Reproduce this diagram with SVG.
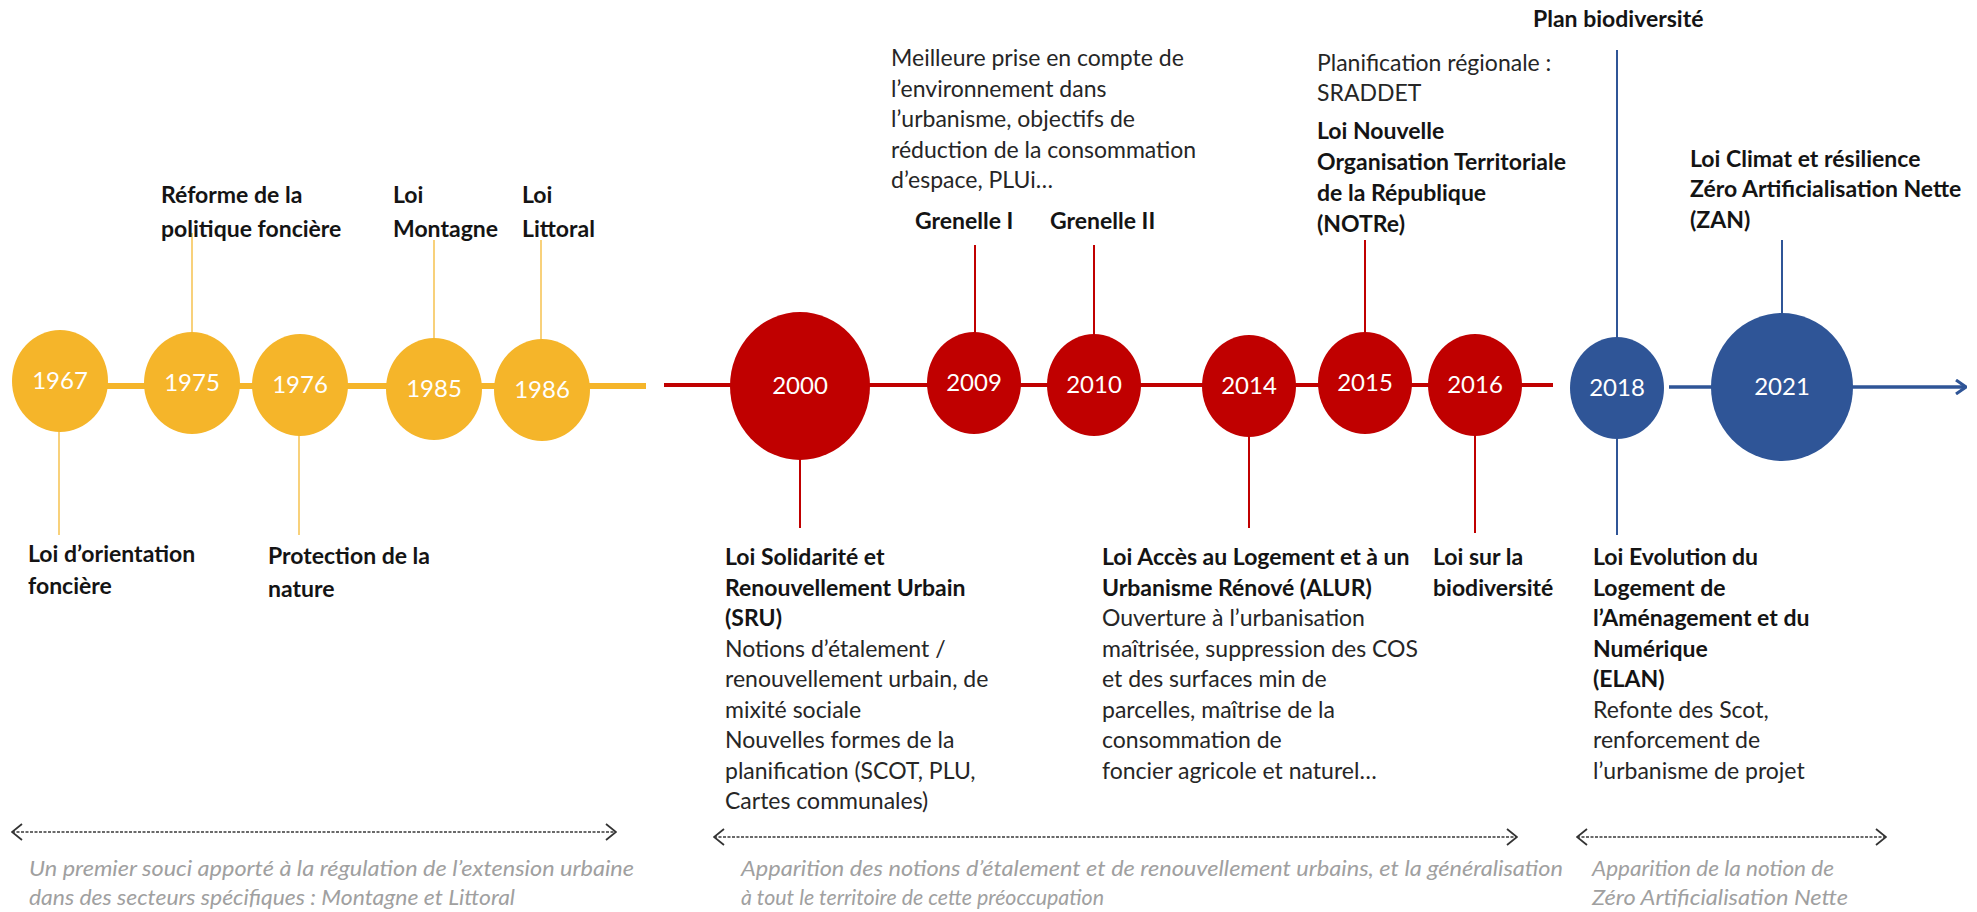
<svg xmlns="http://www.w3.org/2000/svg" width="1977" height="912" viewBox="0 0 1977 912">
<defs>
<style>
.t{font-family:Lato,"Liberation Sans",sans-serif;font-size:23px;fill:#141414}
.b{font-weight:bold}
.r{fill:#262626}
.yr{font-family:Lato,"Liberation Sans",sans-serif;font-size:24px;text-anchor:middle;fill:#ffffff}
.g{font-family:Lato,"Liberation Sans",sans-serif;font-size:22px;font-style:italic;fill:#a0a0a0}
.cy{stroke:#F7C65A;stroke-width:1.6}
.cr{stroke:#C00000;stroke-width:2}
.cb{stroke:#2F5597;stroke-width:2}
.da{stroke:#3a3a3a;stroke-width:1.6;stroke-dasharray:3 1.5;fill:none}
</style>
<marker id="ah" viewBox="0 0 12 16" refX="11" refY="8" markerWidth="12" markerHeight="16" markerUnits="userSpaceOnUse" orient="auto">
<path d="M1,1 L11,8 L1,15" fill="none" stroke="#2F5597" stroke-width="3"/>
</marker>
<marker id="ch" viewBox="0 0 12 18" refX="11" refY="9" markerWidth="12" markerHeight="18" markerUnits="userSpaceOnUse" orient="auto-start-reverse">
<path d="M1,1 L11,9 L1,17" fill="none" stroke="#333" stroke-width="1.8"/>
</marker>
</defs>
<rect width="1977" height="912" fill="#ffffff"/>

<g id="connectors">
<line x1="60" y1="386" x2="646" y2="386" stroke="#F5B52A" stroke-width="6"/>
<line x1="664" y1="385" x2="1553" y2="385" stroke="#C00000" stroke-width="4"/>
<line x1="1669" y1="387" x2="1966" y2="387" stroke="#2F5597" stroke-width="3.5" marker-end="url(#ah)"/>
<line class="cy" x1="192" y1="233" x2="192" y2="334"/>
<line class="cy" x1="434" y1="240" x2="434" y2="339"/>
<line class="cy" x1="541" y1="240" x2="541" y2="340"/>
<line class="cy" x1="59" y1="430" x2="59" y2="535"/>
<line class="cy" x1="299" y1="434" x2="299" y2="535"/>
<line class="cr" x1="975" y1="245" x2="975" y2="333"/>
<line class="cr" x1="1094" y1="245" x2="1094" y2="335"/>
<line class="cr" x1="1365" y1="240" x2="1365" y2="333"/>
<line class="cr" x1="800" y1="458" x2="800" y2="528"/>
<line class="cr" x1="1249" y1="435" x2="1249" y2="528"/>
<line class="cr" x1="1475" y1="434" x2="1475" y2="533"/>
<line class="cb" x1="1617" y1="50" x2="1617" y2="339"/>
<line class="cb" x1="1617" y1="436" x2="1617" y2="535"/>
<line class="cb" x1="1782" y1="240" x2="1782" y2="314"/>
<line class="da" x1="12" y1="832" x2="616" y2="832" marker-start="url(#ch)" marker-end="url(#ch)"/>
<line class="da" x1="714" y1="837" x2="1517" y2="837" marker-start="url(#ch)" marker-end="url(#ch)"/>
<line class="da" x1="1577" y1="837" x2="1886" y2="837" marker-start="url(#ch)" marker-end="url(#ch)"/>
</g>

<g id="n1967"><ellipse cx="60" cy="381" rx="48" ry="51" fill="#F5B52A"/><text class="yr" x="60" y="389">1967</text>
<text class="t b" x="28" y="562">Loi d’orientation<tspan x="28" y="594">foncière</tspan></text></g>
<g id="n1975"><ellipse cx="192" cy="383" rx="48" ry="51" fill="#F5B52A"/><text class="yr" x="192" y="391">1975</text>
<text class="t b" x="161" y="203">Réforme de la<tspan x="161" y="237">politique foncière</tspan></text></g>
<g id="n1976"><ellipse cx="300" cy="385" rx="48" ry="51" fill="#F5B52A"/><text class="yr" x="300" y="393">1976</text>
<text class="t b" x="268" y="564">Protection de la<tspan x="268" y="597">nature</tspan></text></g>
<g id="n1985"><ellipse cx="434" cy="389" rx="48" ry="51" fill="#F5B52A"/><text class="yr" x="434" y="397">1985</text>
<text class="t b" x="393" y="203">Loi<tspan x="393" y="237">Montagne</tspan></text></g>
<g id="n1986"><ellipse cx="542" cy="390" rx="48" ry="51" fill="#F5B52A"/><text class="yr" x="542" y="398">1986</text>
<text class="t b" x="522" y="203">Loi<tspan x="522" y="237">Littoral</tspan></text></g>

<g id="n2000"><ellipse cx="800" cy="386" rx="70" ry="74" fill="#C00000"/><text class="yr" x="800" y="394">2000</text>
<text class="t" x="725" y="565"><tspan class="b">Loi Solidarité et</tspan><tspan class="b" x="725" y="595.5">Renouvellement Urbain</tspan><tspan class="b" x="725" y="626">(SRU)</tspan><tspan class="r" x="725" y="656.5">Notions d’étalement /</tspan><tspan class="r" x="725" y="687">renouvellement urbain, de</tspan><tspan class="r" x="725" y="717.5">mixité sociale</tspan><tspan class="r" x="725" y="748">Nouvelles formes de la</tspan><tspan class="r" x="725" y="778.5">planification (SCOT, PLU,</tspan><tspan class="r" x="725" y="809">Cartes communales)</tspan></text></g>
<g id="n2009"><ellipse cx="974" cy="383" rx="47" ry="51" fill="#C00000"/><text class="yr" x="974" y="391">2009</text>
<text class="t b" x="915" y="229">Grenelle I</text>
<text class="t r" x="891" y="66">Meilleure prise en compte de<tspan x="891" y="96.5">l’environnement dans</tspan><tspan x="891" y="127">l’urbanisme, objectifs de</tspan><tspan x="891" y="157.5">réduction de la consommation</tspan><tspan x="891" y="188">d’espace, PLUi…</tspan></text></g>
<g id="n2010"><ellipse cx="1094" cy="385" rx="47" ry="51" fill="#C00000"/><text class="yr" x="1094" y="393">2010</text>
<text class="t b" x="1050" y="229">Grenelle II</text></g>
<g id="n2014"><ellipse cx="1249" cy="386" rx="47" ry="51" fill="#C00000"/><text class="yr" x="1249" y="394">2014</text>
<text class="t" x="1102" y="565"><tspan class="b">Loi Accès au Logement et à un</tspan><tspan class="b" x="1102" y="595.5">Urbanisme Rénové (ALUR)</tspan><tspan class="r" x="1102" y="626">Ouverture à l’urbanisation</tspan><tspan class="r" x="1102" y="656.5">maîtrisée, suppression des COS</tspan><tspan class="r" x="1102" y="687">et des surfaces min de</tspan><tspan class="r" x="1102" y="717.5">parcelles, maîtrise de la</tspan><tspan class="r" x="1102" y="748">consommation de</tspan><tspan class="r" x="1102" y="778.5">foncier agricole et naturel…</tspan></text></g>
<g id="n2015"><ellipse cx="1365" cy="383" rx="47" ry="51" fill="#C00000"/><text class="yr" x="1365" y="391">2015</text>
<text class="t" x="1317" y="71"><tspan class="r">Planification régionale :</tspan><tspan class="r" x="1317" y="101">SRADDET</tspan><tspan class="b" x="1317" y="139">Loi Nouvelle</tspan><tspan class="b" x="1317" y="170">Organisation Territoriale</tspan><tspan class="b" x="1317" y="201">de la République</tspan><tspan class="b" x="1317" y="232">(NOTRe)</tspan></text></g>
<g id="n2016"><ellipse cx="1475" cy="385" rx="47" ry="51" fill="#C00000"/><text class="yr" x="1475" y="393">2016</text>
<text class="t b" x="1433" y="565">Loi sur la<tspan x="1433" y="595.5">biodiversité</tspan></text></g>

<g id="n2018"><ellipse cx="1617" cy="388" rx="47" ry="51" fill="#2F5597"/><text class="yr" x="1617" y="396">2018</text>
<text class="t b" x="1533" y="27">Plan biodiversité</text>
<text class="t" x="1593" y="565"><tspan class="b">Loi Evolution du</tspan><tspan class="b" x="1593" y="595.5">Logement de</tspan><tspan class="b" x="1593" y="626">l’Aménagement et du</tspan><tspan class="b" x="1593" y="656.5">Numérique</tspan><tspan class="b" x="1593" y="687">(ELAN)</tspan><tspan class="r" x="1593" y="717.5">Refonte des Scot,</tspan><tspan class="r" x="1593" y="748">renforcement de</tspan><tspan class="r" x="1593" y="778.5">l’urbanisme de projet</tspan></text></g>
<g id="n2021"><ellipse cx="1782" cy="387" rx="71" ry="74" fill="#2F5597"/><text class="yr" x="1782" y="395">2021</text>
<text class="t b" x="1690" y="167">Loi Climat et résilience<tspan x="1690" y="197">Zéro Artificialisation Nette</tspan><tspan x="1690" y="228">(ZAN)</tspan></text></g>

<g id="periods">
<text class="g" x="29" y="876" textLength="605" lengthAdjust="spacingAndGlyphs">Un premier souci apporté à la régulation de l’extension urbaine</text>
<text class="g" x="29" y="905" textLength="486" lengthAdjust="spacingAndGlyphs">dans des secteurs spécifiques : Montagne et Littoral</text>
<text class="g" x="741" y="876" textLength="822" lengthAdjust="spacingAndGlyphs">Apparition des notions d’étalement et de renouvellement urbains, et la généralisation</text>
<text class="g" x="741" y="905" textLength="363" lengthAdjust="spacingAndGlyphs">à tout le territoire de cette préoccupation</text>
<text class="g" x="1592" y="876" textLength="242" lengthAdjust="spacingAndGlyphs">Apparition de la notion de</text>
<text class="g" x="1592" y="905" textLength="256" lengthAdjust="spacingAndGlyphs">Zéro Artificialisation Nette</text>
</g>
</svg>
